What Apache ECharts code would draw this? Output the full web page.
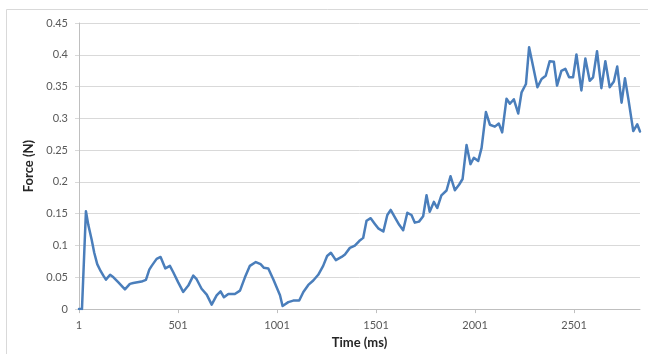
<!DOCTYPE html>
<html>
<head>
<meta charset="utf-8">
<script src="https://cdn.jsdelivr.net/npm/echarts@6/dist/echarts.min.js"></script>
<style>
  html, body { margin: 0; padding: 0; background: #ffffff; }
  #chart { width: 648px; height: 354px; }
</style>
</head>
<body>
<div id="chart"></div>
<script>
// Sample times (ms) and measured force (N)
const timeMs = [
  1, 16, 36, 48, 65, 78, 93, 110, 124, 137, 158, 175, 200, 233, 258, 275, 317, 339, 356, 368,
  393, 413, 423, 437, 447, 460, 477, 502, 527, 553, 578, 595, 620, 646, 671, 696, 716, 733, 755, 788,
  814, 839, 864, 894, 918, 935, 957, 982, 1016, 1029, 1058, 1083, 1113, 1134, 1159, 1184, 1209, 1234, 1254, 1273,
  1298, 1327, 1344, 1369, 1394, 1416, 1436, 1453, 1474, 1495, 1512, 1538, 1558, 1575, 1597, 1618, 1638, 1659, 1680, 1697,
  1718, 1739, 1756, 1772, 1793, 1810, 1831, 1857, 1877, 1899, 1921, 1938, 1958, 1978, 1995, 2017, 2034, 2056, 2076, 2101,
  2121, 2138, 2160, 2177, 2197, 2219, 2236, 2258, 2274, 2294, 2316, 2337, 2358, 2378, 2399, 2415, 2437, 2457, 2476, 2496,
  2513, 2538, 2558, 2580, 2597, 2617, 2639, 2659, 2681, 2702, 2719, 2741, 2758, 2775, 2800, 2820, 2834
];
const forceN = [
  0, 0, 0.154, 0.1325, 0.109, 0.0886, 0.0707, 0.060, 0.0526, 0.0464, 0.054, 0.050, 0.042, 0.031, 0.0397, 0.041, 0.0433, 0.046, 0.062, 0.068,
  0.079, 0.082, 0.081, 0.064, 0.066, 0.068, 0.058, 0.042, 0.027, 0.037, 0.0526, 0.047, 0.032, 0.0227, 0.007, 0.0217, 0.028, 0.0186, 0.0237, 0.0237,
  0.029, 0.050, 0.068, 0.074, 0.0707, 0.065, 0.064, 0.047, 0.0217, 0.005, 0.011, 0.0134, 0.0134, 0.027, 0.038, 0.045, 0.054, 0.068, 0.0835, 0.0886,
  0.077, 0.082, 0.086, 0.0963, 0.100, 0.107, 0.112, 0.139, 0.143, 0.134, 0.127, 0.122, 0.148, 0.156, 0.144, 0.1325, 0.124, 0.1515, 0.148, 0.136,
  0.1376, 0.146, 0.179, 0.153, 0.1686, 0.159, 0.179, 0.1866, 0.209, 0.187, 0.196, 0.2046, 0.258, 0.228, 0.238, 0.233, 0.2536, 0.310, 0.290, 0.287,
  0.292, 0.278, 0.331, 0.323, 0.330, 0.3077, 0.341, 0.354, 0.412, 0.382, 0.349, 0.362, 0.367, 0.390, 0.389, 0.3515, 0.3747, 0.378, 0.3645, 0.3645,
  0.4005, 0.344, 0.394, 0.359, 0.3645, 0.4056, 0.3475, 0.390, 0.349, 0.358, 0.3815, 0.3247, 0.363, 0.331, 0.280, 0.2907, 0.2794
];
const xTickLabels = [1, 501, 1001, 1501, 2001, 2501];
const yTickValues = [0, 0.05, 0.1, 0.15, 0.2, 0.25, 0.3, 0.35, 0.4, 0.45];

const chart = echarts.init(document.getElementById('chart'), null, { renderer: 'canvas' });

const labelFont = { fontFamily: 'Lato', fontSize: 11, color: '#595959' };
const titleFont = { fontFamily: 'Lato', fontSize: 13, fontWeight: 'bold', color: '#262626' };

chart.setOption({
  animation: false,
  backgroundColor: '#ffffff',
  grid: { left: 79, right: 8, top: 23, bottom: 40, containLabel: false },
  graphic: [
    { type: 'line', shape: { x1: 6.5, y1: 9.5, x2: 648, y2: 9.5 }, style: { stroke: '#d9d9d9', lineWidth: 1 }, silent: true },
    { type: 'line', shape: { x1: 6.5, y1: 9.5, x2: 6.5, y2: 354 }, style: { stroke: '#d9d9d9', lineWidth: 1 }, silent: true }
  ],
  xAxis: {
    type: 'value',
    min: 1,
    max: 2834,
    name: 'Time (ms)',
    nameLocation: 'middle',
    nameGap: 25,
    nameTextStyle: titleFont,
    axisLine: { show: true, lineStyle: { color: '#bfbfbf', width: 1 } },
    axisTick: { show: true, length: 4, lineStyle: { color: '#bfbfbf' }, customValues: xTickLabels },
    axisLabel: Object.assign({ margin: 11, customValues: xTickLabels, formatter: v => String(v) }, labelFont),
    splitLine: { show: false }
  },
  yAxis: {
    type: 'value',
    min: 0,
    max: 0.45,
    interval: 0.05,
    name: 'Force (N)',
    nameLocation: 'middle',
    nameGap: 40,
    nameTextStyle: titleFont,
    axisLine: { show: true, lineStyle: { color: '#bfbfbf', width: 1 } },
    axisTick: { show: true, length: 4, lineStyle: { color: '#d9d9d9' } },
    axisLabel: Object.assign({ margin: 11, customValues: yTickValues, formatter: v => String(+v.toFixed(2)) }, labelFont),
    splitLine: { show: true, lineStyle: { color: '#d9d9d9', width: 1 } }
  },
  series: [{
    type: 'line',
    data: timeMs.map((t, i) => [t, forceN[i]]),
    showSymbol: false,
    smooth: false,
    lineStyle: { color: '#4a7ebb', width: 2.5, join: 'round', cap: 'round' },
    z: 3
  }]
});
</script>
</body>
</html>
